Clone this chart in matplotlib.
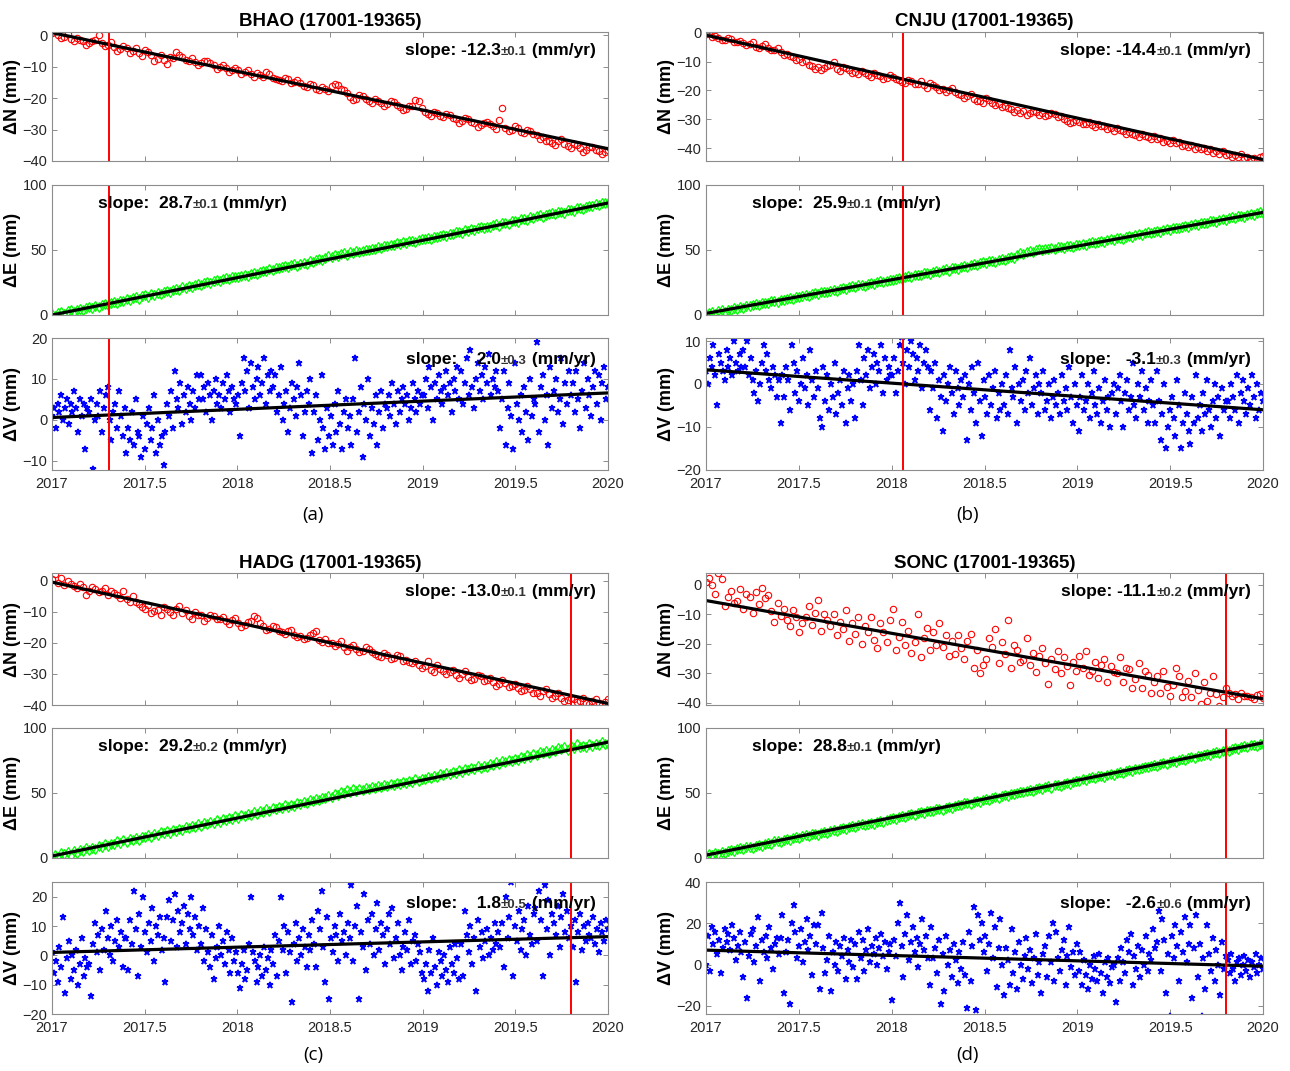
#!/usr/bin/env python3
"""
GNSS daily position time series (N/E/V) for four stations, 2017-2020,
with linear fit and a marker line. Writes out.png.
"""

import numpy as np
import matplotlib
matplotlib.use("Agg")
import matplotlib.pyplot as plt

plt.rcParams["font.family"] = ["Liberation Sans", "DejaVu Sans"]

# ---- data (mm) ----
STATIONS = ["BHAO", "CNJU", "HADG", "SONC"]
PERIOD = "(17001-19365)"
PANEL_TAGS = ["(a)", "(b)", "(c)", "(d)"]
EVENT_EPOCH = [2017.31, 2018.06, 2019.80, 2019.80]

# slope (mm/yr), sigma, fit value at 2017.0
SLOPE_N = [-12.3, -14.4, -13.0, -11.1]
SIGMA_N = [0.1, 0.1, 0.1, 0.2]
START_N = [0.8, -0.8, -0.5, -5.3]
SLOPE_E = [28.7, 25.9, 29.2, 28.8]
SIGMA_E = [0.1, 0.1, 0.2, 0.1]
START_E = [0.0, 1.2, 1.5, 2.2]
SLOPE_V = [2.0, -3.1, 1.8, -2.6]
SIGMA_V = [0.3, 0.3, 0.5, 0.6]
START_V = [0.6, 3.3, 1.0, 7.0]

BHAO_N = [0.8, 1.5, 0.2, -0.8, -0.5, 0.3, -1.2, -2.0, -1.0, -1.4, -1.8, -3.0, -2.5, -1.8, -1.5, 0.0, -2.6, -3.4, -3.0, -2.2,
          -3.8, -4.9, -4.5, -3.6, -4.2, -5.8, -5.0, -4.1, -5.6, -6.5, -4.8, -5.5, -6.2, -8.2, -7.5, -6.4, -8.0, -9.2, -6.8, -7.2,
          -5.5, -6.3, -7.0, -7.9, -8.2, -7.4, -8.5, -9.5, -9.0, -8.1, -8.3, -9.0, -9.6, -10.8, -10.2, -9.4, -10.5, -11.6, -11.0, -10.4,
          -11.0, -12.2, -11.8, -11.1, -12.5, -13.4, -12.0, -12.6, -13.2, -11.6, -12.4, -13.5, -13.8, -14.2, -14.5, -13.5, -14.0, -15.2, -15.0, -14.4,
          -15.3, -16.2, -16.5, -15.6, -16.0, -17.0, -17.4, -16.5, -17.0, -17.8, -16.2, -15.4, -15.8, -17.0, -17.5, -18.5, -19.6, -20.5, -20.2, -19.0,
          -19.5, -20.3, -20.8, -21.6, -20.2, -21.0, -21.5, -22.4, -22.0, -21.0, -21.3, -22.2, -22.8, -23.9, -23.5, -22.6, -22.5, -20.5, -21.0, -23.2,
          -24.5, -25.2, -25.6, -24.4, -24.8, -25.8, -26.0, -25.0, -25.5, -26.3, -26.8, -27.8, -27.3, -26.2, -26.5, -27.6, -28.0, -29.2, -28.6, -27.8,
          -27.5, -28.2, -28.8, -29.8, -27.0, -23.2, -29.5, -30.4, -30.2, -29.0, -29.6, -30.8, -31.0, -30.0, -30.5, -31.5, -31.8, -33.0, -32.5, -33.8,
          -33.5, -34.2, -34.8, -33.6, -33.0, -34.5, -35.2, -36.0, -34.5, -35.0, -35.8, -37.2, -36.5, -35.4, -35.6, -36.4, -36.8, -37.8, -37.0, -36.5]
BHAO_E = [0.5, -0.5, 1.2, 2.0, 0.8, 2.8, 3.5, 2.2, 4.0, 4.8, 3.9, 5.5, 6.2, 5.0, 7.2, 6.5, 7.8, 8.6, 7.5, 9.5,
          10.2, 9.0, 11.0, 10.6, 12.2, 11.5, 13.0, 13.8, 12.6, 14.5, 15.2, 14.0, 16.0, 15.5, 17.0, 16.2, 17.8, 18.5, 17.5, 19.5,
          20.0, 19.0, 21.5, 20.6, 22.2, 21.8, 23.0, 24.0, 23.2, 24.8, 25.5, 24.6, 26.2, 27.0, 26.0, 27.8, 28.5, 27.6, 29.2, 29.5,
          29.5, 30.2, 31.0, 30.0, 31.8, 32.5, 31.6, 33.2, 34.0, 33.5, 35.0, 34.4, 36.0, 35.8, 36.8, 37.5, 36.8, 38.5, 39.0, 38.0,
          39.0, 40.2, 39.5, 41.5, 41.0, 42.2, 43.0, 42.5, 44.0, 45.2, 44.5, 46.2, 45.5, 46.8, 47.5, 46.5, 48.2, 47.8, 49.0, 48.5,
          49.0, 49.8, 50.2, 51.0, 50.5, 52.0, 51.6, 53.0, 52.8, 54.0, 53.5, 55.0, 54.8, 56.0, 55.5, 56.8, 57.2, 56.5, 58.0, 58.5,
          58.2, 59.0, 58.8, 60.2, 60.0, 61.0, 61.8, 61.0, 62.5, 62.2, 63.5, 64.0, 63.2, 65.0, 64.5, 66.0, 65.5, 66.8, 67.5, 66.6,
          68.0, 67.5, 69.0, 69.6, 68.8, 70.5, 71.0, 70.2, 72.0, 72.5, 71.8, 73.5, 74.0, 73.2, 75.0, 74.5, 76.0, 76.8, 75.5, 77.0,
          77.5, 78.2, 77.6, 79.0, 79.5, 78.8, 80.5, 81.0, 80.2, 82.0, 82.5, 81.8, 83.2, 84.0, 83.5, 85.0, 84.5, 86.0, 86.5, 85.8]
BHAO_V = [1, 3, -2, 4, 2, 6, 0, 3, 5, -1, 4, 2, 7, 3, -3, 5, 1, 4, -7, 3,
          2, 5, -12, 0, 4, 1, 7, -3, 3, 6, 8, 0, -5, 2, 4, -2, 7, 1, -4, 3,
          -8, -2, -5, 2, -6, 5, -3, -4, -9, 1, -7, -1, 3, -5, -2, 6, -8, 0, -6, -4,
          -11, -3, 4, 1, 7, -2, 12, 5, 3, 9, -1, 6, 2, 8, 4, 0, 7, 3, 11, 5,
          11, 5, 8, 2, 9, 6, 0, 7, 10, 4, 6, 3, 9, 5, 11, 7, 2, 8, 5, 4,
          6, -4, 9, 15, 7, 12, 3, 14, 8, 5, 10, 13, 6, 9, 15, 4, 11, 7, 12, 8,
          11, 2, 6, 13, 0, 4, 7, -3, 3, 9, 5, 1, 8, 14, 6, -4, 2, 7, 4, 10,
          -8, 2, 6, -5, 0, 11, -2, -7, 3, -4, 1, -6, 4, -3, 7, -1, -7, 2, 5, -2,
          1, -6, 5, 15, -3, 2, 8, -9, 4, 0, 10, -4, 3, -1, 6, -6, 2, 7, -2, 4,
          3, 6, 1, 9, 4, -1, 7, 2, 5, 8, 4, 6, 0, 3, 9, 5, 2, 7, 4, 6,
          6, 10, 3, 13, 8, 0, 9, 5, 11, 7, 4, 8, 12, 6, 9, 2, 10, 7, 13, 5,
          12, 4, 9, 15, 6, 17, 8, 3, 10, 14, 7, 11, 5, 13, 9, 16, 6, 10, 8, 12,
          7, -2, 5, 12, -6, 3, 9, 1, -7, 14, 4, 0, 6, -3, 8, 2, -5, 10, 1, 5,
          4, 19, -3, 8, 11, 0, 6, -6, 13, 3, 7, 10, 2, 5, 15, -1, 9, 4, 12, 6,
          9, 2, 12, 5, -2, 7, 14, 3, 10, 6, 1, 8, 12, 4, 11, 0, 9, 13, 5, 8]

CNJU_N = [-0.5, -0.2, -1.5, -1.0, -1.8, -2.6, -2.5, -1.8, -2.2, -3.0, -3.3, -2.8, -3.5, -4.2, -4.0, -3.2, -4.8, -5.2, -4.5, -4.0,
          -5.2, -5.8, -6.0, -5.4, -6.8, -7.8, -7.5, -8.2, -8.5, -9.5, -9.0, -10.2, -9.8, -11.0, -11.5, -12.5, -11.8, -12.8, -12.2, -11.5,
          -11.0, -10.2, -12.5, -13.2, -11.8, -12.2, -12.8, -13.8, -13.5, -14.2, -13.2, -14.0, -14.5, -15.2, -14.0, -14.8, -15.0, -16.0, -15.5, -14.8,
          -15.2, -16.0, -16.5, -17.2, -17.5, -16.4, -16.8, -17.8, -17.6, -16.8, -18.2, -19.0, -17.5, -18.2, -18.8, -19.8, -19.5, -20.5, -20.0, -19.2,
          -20.5, -21.2, -21.5, -22.5, -22.0, -21.4, -22.8, -23.8, -23.5, -24.2, -22.5, -23.2, -24.2, -25.0, -24.8, -25.8, -25.5, -26.2, -26.5, -27.5,
          -26.8, -27.8, -27.2, -28.5, -28.0, -27.2, -27.5, -28.4, -27.8, -28.8, -28.5, -27.8, -28.2, -29.2, -29.0, -30.0, -30.5, -31.2, -31.0, -30.4,
          -30.8, -31.8, -31.5, -30.8, -32.0, -32.8, -31.8, -32.4, -32.5, -33.5, -33.2, -34.0, -33.0, -33.8, -34.2, -35.2, -34.5, -35.0, -35.5, -36.2,
          -35.0, -35.8, -36.2, -37.0, -35.8, -36.8, -36.5, -37.8, -37.5, -38.2, -37.2, -38.4, -38.0, -39.2, -38.8, -39.6, -39.0, -40.2, -39.5, -40.5,
          -40.0, -41.0, -40.5, -41.8, -41.2, -42.0, -41.0, -42.5, -42.0, -43.0, -42.5, -43.2, -42.2, -43.5, -43.0, -44.2, -43.5, -44.5, -43.2, -42.8]
CNJU_E = [0.5, 1.5, 2.2, 1.0, 2.8, 3.5, 2.6, 4.2, 4.0, 5.2, 4.8, 6.0, 5.5, 7.0, 6.6, 7.5, 8.2, 7.8, 9.0, 9.5,
          9.2, 10.5, 10.8, 10.0, 11.8, 11.5, 12.5, 13.2, 12.6, 14.0, 13.8, 14.8, 15.5, 14.9, 16.2, 16.8, 16.0, 17.5, 18.0, 17.4,
          18.8, 19.5, 18.6, 20.2, 20.8, 20.0, 21.5, 22.0, 21.4, 23.0, 23.2, 22.5, 24.0, 24.6, 23.8, 25.5, 25.8, 25.2, 26.5, 27.0,
          26.8, 28.0, 28.5, 27.8, 29.2, 29.8, 29.0, 30.6, 31.0, 30.5, 32.0, 32.2, 31.6, 33.2, 33.8, 33.0, 34.5, 35.0, 34.2, 35.8,
          36.2, 35.5, 37.0, 37.6, 37.0, 38.5, 39.0, 38.4, 39.8, 40.5, 40.0, 41.2, 41.8, 41.0, 42.6, 43.2, 42.5, 44.0, 44.5, 44.0,
          46.5, 47.5, 47.0, 48.5, 49.0, 48.2, 50.0, 50.5, 49.8, 51.0, 50.5, 51.5, 51.0, 52.0, 52.5, 51.8, 53.2, 53.0, 52.6, 54.0,
          53.8, 54.5, 54.0, 55.2, 55.8, 55.0, 56.5, 57.0, 56.2, 57.8, 58.2, 57.6, 59.0, 59.5, 58.8, 60.2, 60.8, 60.0, 61.5, 62.0,
          61.6, 63.0, 63.5, 62.8, 64.2, 64.8, 64.0, 65.5, 66.0, 65.4, 66.8, 67.2, 66.6, 68.0, 68.5, 67.8, 69.2, 69.8, 69.0, 70.5,
          71.0, 70.5, 72.0, 72.6, 71.8, 73.2, 73.8, 73.0, 74.5, 75.0, 74.4, 75.8, 76.2, 75.6, 77.0, 77.5, 76.8, 78.2, 79.0, 78.5]
CNJU_V = [3, 0, 6, 4, 9, 2, -5, 7, 5, 3, 1, 8, 4, 6, 2, 10, 5, 3, 7, 4,
          8, 4, 10, 2, 6, 1, -2, 3, -4, 0, 5, 9, 3, 7, 1, -1, 4, 2, -3, 1,
          -9, 2, -3, 4, 1, -6, 9, 5, -2, 3, -4, 0, 6, -1, 2, -5, 8, 1, -3, 3,
          -1, -8, -10, 4, -4, 2, -6, 0, -3, 5, -7, -2, 1, -5, 3, -9, -1, 2, -4, 0,
          -8, 3, 9, 1, -5, 6, 2, 8, -1, 4, 7, 0, 5, 3, 9, -2, 6, 1, 4, 2,
          2, 6, -2, 3, 9, 11, 5, 0, 8, 4, 10, 7, 1, 6, 3, 9, -1, 5, 8, 4,
          -6, 3, -1, 5, -8, 1, -3, -11, 2, -4, 0, 4, -2, -7, 3, -1, -5, 1, -3, 2,
          -13, 0, -6, 4, -2, -9, 5, -4, -12, 1, -3, -7, 2, -5, -1, 3, -8, -2, -6, 0,
          -5, 2, -7, 8, -1, -3, 4, -9, 0, -4, 1, -6, 3, -2, 6, -5, -1, 2, -7, 0,
          -2, 3, -6, -4, 0, -8, -3, 1, -5, -2, -7, 2, -4, -1, -6, 4, -3, -9, 0, -5,
          -11, -3, 2, -6, -4, 0, -8, -2, 3, -5, -7, -1, -9, -4, 1, -6, -3, -10, -2, 0,
          -7, -1, 2, -4, -10, -2, 1, -6, -3, 5, -5, -8, 0, -3, 3, -6, -1, -9, -4, 1,
          -5, -9, 3, -4, -13, -7, 0, -15, -10, -6, -3, -8, -12, 1, -5, -15, -9, -2, -7, -11,
          -14, -3, -9, 2, -8, -5, -11, -2, -7, 1, -6, -10, -4, 0, -8, -3, -12, -1, -6, -4,
          -4, -8, 0, -3, -6, 2, -9, -2, 1, -4, -7, -1, -5, 2, -3, -8, 0, -6, -2, -4]

HADG_N = [0.5, 2.0, -0.8, 0.8, -1.5, -0.2, -1.0, -1.8, -2.5, -1.2, -2.0, -4.5, -3.2, -2.0, -2.8, -3.8, -3.5, -2.5, -4.5, -3.5,
          -4.0, -4.8, -5.5, -3.2, -6.0, -6.8, -5.0, -7.0, -7.5, -8.5, -9.0, -8.0, -10.5, -9.8, -9.5, -11.0, -8.5, -9.2, -10.0, -11.2,
          -9.0, -8.2, -10.5, -9.6, -11.5, -12.2, -10.2, -11.2, -11.0, -13.0, -12.0, -11.2, -11.5, -12.4, -12.5, -11.8, -13.0, -13.8, -12.8, -12.0,
          -13.5, -14.8, -14.2, -13.2, -13.0, -11.5, -12.0, -13.5, -14.5, -15.8, -15.5, -14.6, -15.0, -16.2, -16.5, -17.2, -16.2, -15.8, -17.5, -18.2,
          -17.8, -18.8, -18.5, -17.6, -17.0, -16.2, -19.0, -19.8, -18.8, -20.2, -20.0, -21.0, -20.5, -19.5, -21.5, -22.5, -21.2, -20.6, -22.0, -23.0,
          -22.5, -21.5, -22.0, -23.0, -23.5, -24.2, -24.5, -23.2, -23.8, -25.2, -25.0, -24.0, -24.2, -25.8, -25.5, -26.2, -26.5, -25.8, -27.0, -28.2,
          -27.5, -26.0, -28.8, -29.5, -27.2, -28.5, -29.0, -30.0, -29.5, -28.8, -30.2, -31.2, -30.0, -29.2, -31.0, -32.0, -31.5, -30.5, -30.8, -32.2,
          -32.0, -31.2, -32.5, -33.8, -33.2, -32.0, -32.8, -34.2, -34.0, -33.2, -34.5, -35.5, -35.2, -34.0, -34.8, -36.2, -36.0, -37.0, -35.5, -34.8,
          -36.5, -37.8, -37.2, -36.2, -37.8, -38.8, -38.5, -37.6, -38.0, -39.0, -38.8, -37.8, -39.2, -39.8, -38.6, -38.0, -39.5, -40.0, -39.0, -38.2]
HADG_E = [1.0, 2.5, 0.5, 3.5, 2.8, 4.5, 1.8, 5.0, 4.2, 6.5, 5.2, 7.8, 6.5, 8.0, 7.0, 9.5, 8.2, 10.5, 9.2, 11.0,
          10.5, 12.8, 11.2, 13.5, 12.0, 14.8, 13.5, 15.5, 14.2, 16.5, 15.8, 17.8, 16.5, 18.5, 17.5, 19.8, 19.0, 20.5, 19.5, 21.5,
          20.5, 22.5, 21.5, 24.0, 22.8, 24.5, 23.5, 26.0, 24.8, 27.0, 26.2, 28.0, 27.0, 29.0, 27.8, 30.2, 29.0, 31.0, 30.2, 32.0,
          31.0, 33.0, 32.2, 34.0, 33.0, 35.5, 34.2, 36.0, 35.5, 37.5, 36.5, 38.5, 37.5, 39.0, 38.5, 40.5, 39.5, 41.0, 40.2, 42.5,
          41.5, 43.0, 42.2, 44.5, 43.5, 45.5, 44.8, 46.5, 45.8, 48.0, 47.0, 49.5, 48.8, 51.0, 50.2, 52.5, 51.0, 53.0, 51.5, 52.8,
          52.0, 53.5, 53.0, 54.5, 53.8, 55.5, 54.5, 56.0, 55.5, 57.2, 56.0, 58.0, 57.0, 58.5, 57.8, 59.5, 58.8, 60.5, 59.5, 61.0,
          60.5, 62.0, 61.2, 63.0, 62.0, 64.5, 63.5, 65.5, 64.5, 66.0, 65.2, 67.5, 66.5, 68.5, 67.5, 69.5, 68.5, 70.5, 69.5, 71.0,
          70.2, 72.5, 71.5, 73.5, 72.5, 74.5, 73.8, 75.5, 74.5, 76.5, 75.5, 78.0, 77.0, 79.0, 78.0, 80.0, 79.0, 81.5, 80.5, 82.0,
          81.0, 83.0, 82.0, 84.5, 83.5, 85.0, 83.0, 86.0, 84.5, 87.5, 85.5, 86.5, 85.0, 87.5, 86.5, 88.0, 87.0, 89.0, 87.5, 88.0]
HADG_V = [1, -6, -2, -9, 3, -4, 13, -13, -1, 5, -8, 0, -5, 2, -10, -3, 6, -7, -1, -4,
          -3, -14, 4, 11, 1, 7, -5, 9, 2, 15, 6, 0, 10, -2, 5, 12, 3, 8, -4, 6,
          6, -5, 12, 4, 22, 9, -7, 14, 3, 20, 8, 1, 11, 5, 16, -2, 10, 7, 13, 2,
          6, -9, 13, 19, 5, 12, 21, 3, 15, 8, 11, 17, 4, 14, 9, 20, 7, 13, 2, 10,
          4, 16, -2, 9, 1, -4, 7, -8, -1, 3, 10, 0, 5, -3, 8, 2, -6, 6, -2, 1,
          -6, -11, -3, 2, -8, -5, 4, 20, 1, -2, -9, -4, 0, -7, 3, -5, -1, -10, 2, -3,
          7, -7, 5, 20, 2, 10, -6, 8, 1, -16, 4, 11, -2, 6, 0, 9, 3, -4, 7, 2,
          12, 4, -4, 15, 9, 22, 3, -9, 13, -15, 6, 1, 10, 7, -2, 14, 5, 8, 0, 11,
          6, 24, -2, 10, 17, -15, 8, 3, 21, -5, 12, 4, 14, 0, 9, 18, 2, 11, 7, -3,
          9, 14, 4, 16, -1, 6, 11, 0, -5, 3, 8, 2, 12, -3, 5, 7, -2, 4, 1, -6,
          -8, -3, -12, 2, -6, 6, -4, -10, 1, -2, -7, 0, -5, -9, 3, -3, -6, 4, -1, -8,
          4, -7, 15, 7, 1, 10, -3, 6, -12, 12, 3, 8, -1, 5, 9, 0, 6, 2, 11, 4,
          8, 3, 11, -4, 20, 6, 13, 25, -7, 10, 5, 15, 2, 9, 12, 0, 17, 7, 4, 14,
          16, 5, 22, 12, -7, 24, 9, 19, 0, 14, 11, 7, 17, 3, 13, 21, 8, 15, 6, 10,
          3, 12, -9, 8, 14, 2, 10, 5, 11, 7, 6, 13, 4, 9, 1, 11, 8, 5, 12, 9]

SONC_N = [1.0, 2.5, 0.0, -3.0, 4.0, 2.0, -7.0, -4.0, -2.0, -6.0, -5.5, -1.5, -8.0, -3.0, -4.0, -9.5, -2.5, -6.5, -1.0, -4.5,
          -3.5, -9.0, -12.5, -6.0, -10.5, -8.0, -12.0, -14.0, -8.5, -11.0, -16.0, -13.0, -11.0, -7.0, -13.5, -9.5, -5.0, -15.5, -10.0, -12.0,
          -14.0, -10.0, -17.0, -12.5, -15.0, -8.5, -19.0, -13.0, -16.5, -11.0, -20.0, -14.0, -16.0, -11.0, -18.5, -21.5, -13.0, -16.0, -19.5, -12.0,
          -8.0, -22.0, -17.5, -12.5, -20.5, -15.5, -23.0, -19.5, -10.0, -24.5, -18.0, -14.5, -22.0, -16.0, -20.5, -13.0, -21.0, -17.0, -24.0, -19.0,
          -23.5, -17.0, -21.5, -25.0, -19.0, -16.5, -28.0, -22.0, -30.0, -27.0, -25.0, -18.0, -21.0, -15.0, -26.5, -19.5, -23.5, -12.0, -28.0, -20.5,
          -22.0, -26.0, -25.5, -18.0, -27.0, -23.0, -29.5, -24.0, -21.5, -26.5, -33.5, -25.0, -28.5, -22.5, -30.0, -24.5, -27.5, -34.0, -26.0, -29.0,
          -24.0, -28.0, -22.5, -30.5, -29.0, -26.0, -31.5, -27.0, -25.0, -33.0, -27.5, -29.5, -30.0, -24.5, -33.0, -28.0, -28.5, -35.0, -32.0, -26.5,
          -35.0, -29.0, -30.5, -36.5, -33.0, -31.0, -36.5, -29.0, -34.5, -37.5, -34.0, -28.0, -31.0, -38.0, -36.0, -32.5, -38.0, -30.0, -35.5, -40.5,
          -33.0, -39.5, -36.5, -31.0, -37.0, -41.0, -38.0, -35.0, -36.5, -37.5, -37.0, -38.5, -36.5, -37.8, -37.5, -38.0, -38.5, -37.2, -37.0, -38.2]
SONC_E = [1.5, 3.0, 2.2, 4.0, 3.2, 4.8, 4.2, 5.5, 6.0, 5.2, 6.8, 7.5, 6.6, 8.2, 8.8, 8.0, 9.5, 10.2, 9.5, 11.0,
          11.5, 11.0, 12.8, 13.2, 12.5, 14.0, 14.6, 13.8, 15.5, 16.0, 15.2, 16.8, 17.5, 16.6, 18.2, 18.8, 18.0, 19.5, 20.2, 19.5,
          21.0, 21.6, 20.8, 22.5, 23.0, 22.2, 23.8, 24.5, 23.6, 25.2, 25.8, 25.0, 26.5, 27.0, 26.2, 28.0, 28.5, 27.6, 29.2, 30.0,
          30.5, 30.0, 31.8, 32.2, 31.5, 33.0, 33.8, 33.0, 34.5, 35.2, 34.5, 36.0, 36.5, 35.8, 37.5, 38.0, 37.2, 38.8, 39.5, 38.8,
          40.2, 41.0, 40.5, 42.0, 42.5, 41.8, 43.2, 44.0, 43.2, 44.8, 45.5, 44.8, 46.2, 46.8, 46.0, 47.5, 48.2, 47.5, 49.0, 49.5,
          49.8, 51.0, 50.5, 51.8, 52.5, 51.8, 53.2, 53.8, 53.0, 54.5, 55.0, 54.2, 55.8, 56.5, 55.6, 57.2, 57.8, 57.0, 58.5, 59.0,
          59.5, 60.5, 60.0, 61.2, 62.0, 61.2, 62.8, 63.2, 62.5, 64.0, 64.8, 64.0, 65.5, 66.0, 65.2, 66.8, 67.5, 66.8, 68.2, 68.8,
          69.5, 70.2, 69.6, 71.0, 71.8, 71.0, 72.5, 73.2, 72.5, 74.0, 74.5, 73.8, 75.2, 76.0, 75.2, 76.8, 77.5, 76.6, 78.2, 78.8,
          79.0, 80.0, 79.5, 81.0, 81.6, 80.8, 82.5, 83.0, 82.2, 83.8, 84.5, 83.6, 85.2, 86.0, 85.0, 86.8, 87.2, 86.5, 88.0, 87.5]
SONC_V = [0, 14, -3, 18, 10, 16, 5, 12, -4, 8, 17, 11, 15, 7, 19, 13, 2, 9, 16, 6,
          -6, 11, -16, 4, 15, 17, 1, 9, 23, -8, 12, 6, 14, 3, 18, 8, -2, 10, 13, 5,
          13, 24, -14, 6, 12, -19, 20, 29, 16, 3, 9, 17, 1, 11, 22, 7, 14, -5, 19, 10,
          19, -12, 25, 8, -4, 2, 14, -13, 6, 0, 11, -3, 9, 4, 13, -7, 7, 1, 12, -1,
          10, -7, 16, 3, 12, -3, 7, 17, 1, 9, 5, 13, 0, 8, 15, 4, 11, -2, 6, 10,
          -17, 12, 4, 20, 30, 9, -6, 15, 24, 2, 11, 18, 6, 13, -1, 10, 22, 7, 14, 3,
          -10, 18, 3, 8, -4, 12, -19, 5, -13, 14, 0, 7, -6, 10, 2, -9, 6, -2, 11, -5,
          -21, 16, -8, 9, 28, -22, 24, 12, 20, 6, 14, -3, 10, 25, 3, 18, -11, 8, 22, 0,
          -15, 8, 2, -10, 17, -4, 6, -12, 11, 0, -7, 4, 13, -2, 7, -9, 3, 15, -5, 1,
          -14, 5, 9, -6, 14, 1, 20, -8, 16, 3, -3, 7, 12, -10, 4, 18, -1, 6, -5, 10,
          -3, 6, -10, 2, -5, -12, 0, -7, 4, -2, -8, 5, -4, -14, 1, -6, 3, -9, -1, 0,
          -18, 3, -8, 8, 1, -4, 12, 6, 15, -10, 4, -2, 9, -6, 7, 0, 14, -3, 5, 2,
          17, 8, 11, 26, -3, 22, 12, -14, 5, -25, 14, 3, 19, 9, -8, 16, 6, 23, 1, 10,
          19, -16, 8, 24, -6, 10, -25, 3, -12, 19, 5, -3, 13, -8, 7, 0, -15, 11, -2, 4,
          2, -4, 5, -2, -8, 1, 3, -5, 0, 4, -3, 2, -6, 1, -1, 5, -4, 0, 3, -2]

SERIES_N = [BHAO_N, CNJU_N, HADG_N, SONC_N]
SERIES_E = [BHAO_E, CNJU_E, HADG_E, SONC_E]
SERIES_V = [BHAO_V, CNJU_V, HADG_V, SONC_V]

YLIM_N = [(-40, 1), (-44.5, 0.3), (-40, 2.4), (-40.7, 4)]
YLIM_V = [(-12.2, 20), (-20, 10.7), (-20, 25), (-24, 40)]
YTICKS_N = [[-40, -30, -20, -10, 0]] * 4
YTICKS_V = [[-10, 0, 10, 20], [-20, -10, 0, 10], [-20, -10, 0, 10, 20], [-20, 0, 20, 40]]

XTICKS = [2017, 2017.5, 2018, 2018.5, 2019, 2019.5, 2020]
XTICKLABELS = ["2017", "2017.5", "2018", "2018.5", "2019", "2019.5", "2020"]

# ---- layout (figure fractions) ----
COL_X = [0.0403, 0.5473]
COL_W = [0.431, 0.4318]
ROW_BOTTOMS = [[0.8497, 0.7059, 0.5612], [0.3417, 0.1989, 0.0532]]
ROW_H = [[0.1204, 0.1214, 0.1232], [0.1232, 0.1214, 0.1232]]
TAG_Y = [0.519, 0.015]

GREY = "#262626"
BOX = "#8c8c8c"


def style_axes(ax, yticks, ylim, show_x):
    ax.set_xlim(2017, 2020)
    ax.set_ylim(*ylim)
    ax.set_yticks(yticks)
    ax.set_xticks(XTICKS)
    if show_x:
        ax.set_xticklabels(XTICKLABELS)
    else:
        ax.set_xticklabels([])
    ax.tick_params(direction="in", length=3.5, width=0.7, colors=BOX,
                   labelcolor=GREY, labelsize=10.5, top=True, right=True)
    ax.tick_params(axis="x", pad=5)
    for sp in ax.spines.values():
        sp.set_color(BOX)
        sp.set_linewidth(0.8)


def slope_text(ax, slope_str, sigma, x, y, right):
    big = dict(fontsize=12.5, fontweight="bold", color="black")
    small = dict(fontsize=9.5, fontweight="bold", color="#333333")
    pm = f"\u00b1{sigma:.1f}"
    if right:
        t3 = ax.text(x, y, " (mm/yr)", ha="right", va="center",
                     transform=ax.transAxes, **big)
        t2 = ax.annotate(pm, xy=(0, 0), xycoords=t3, ha="right",
                         va="bottom", **small)
        ax.annotate(slope_str, xy=(0, 0), xycoords=t2, ha="right",
                    va="bottom", **big)
    else:
        t1 = ax.text(x, y, slope_str, ha="left", va="center",
                     transform=ax.transAxes, **big)
        t2 = ax.annotate(pm, xy=(1, 0), xycoords=t1, ha="left",
                         va="bottom", **small)
        ax.annotate(" (mm/yr)", xy=(1, 0), xycoords=t2, ha="left",
                    va="bottom", **big)


def fmt_slope(v, pad):
    s = f"{v:.1f}"
    if v >= 0:
        s = " " + s
    return "slope: " + pad + s


def station_panel(fig, k):
    col = k % 2
    row = k // 2
    x0, w = COL_X[col], COL_W[col]
    bots, hs = ROW_BOTTOMS[row], ROW_H[row]
    ax_n = fig.add_axes([x0, bots[0], w, hs[0]])
    ax_e = fig.add_axes([x0, bots[1], w, hs[1]])
    ax_v = fig.add_axes([x0, bots[2], w, hs[2]])

    t_n = np.linspace(2017, 2020, len(SERIES_N[k]))
    t_e = np.linspace(2017, 2020, len(SERIES_E[k]))
    t_v = np.linspace(2017, 2020, len(SERIES_V[k]))
    fit_x = np.array([2017.0, 2020.0])
    ylab = dict(fontsize=13, fontweight="bold", labelpad=1)

    # North
    ax_n.plot(t_n, SERIES_N[k], "o", mfc="none", mec="#ff0000",
              ms=4.6, mew=0.8)
    ax_n.plot(fit_x, START_N[k] + SLOPE_N[k] * (fit_x - 2017), color="black", lw=2.3)
    style_axes(ax_n, YTICKS_N[k], YLIM_N[k], False)
    ax_n.set_ylabel("\u0394N (mm)", **ylab)
    ax_n.set_title(f"{STATIONS[k]} {PERIOD}", fontsize=13.5,
                   fontweight="bold", pad=4)
    slope_text(ax_n, fmt_slope(SLOPE_N[k], ""), SIGMA_N[k], 0.978, 0.86, True)

    # East
    ax_e.plot(t_e, SERIES_E[k], "d", mfc="none", mec="#00ff00",
              ms=5.4, mew=0.9)
    ax_e.plot(fit_x, START_E[k] + SLOPE_E[k] * (fit_x - 2017), color="black", lw=2.3)
    style_axes(ax_e, [0, 50, 100], (0, 100), False)
    ax_e.set_ylabel("\u0394E (mm)", **ylab)
    slope_text(ax_e, fmt_slope(SLOPE_E[k], ""), SIGMA_E[k], 0.082, 0.855, False)

    # Up
    ax_v.plot(t_v, SERIES_V[k], "*", color="#0000ff", ms=4.6, mew=1.1)
    ax_v.plot(fit_x, START_V[k] + SLOPE_V[k] * (fit_x - 2017), color="black", lw=2.3)
    style_axes(ax_v, YTICKS_V[k], YLIM_V[k], True)
    ax_v.set_ylabel("\u0394V (mm)", **ylab)
    slope_text(ax_v, fmt_slope(SLOPE_V[k], "  "), SIGMA_V[k], 0.978, 0.84, True)

    for ax in (ax_n, ax_e, ax_v):
        ax.axvline(EVENT_EPOCH[k], color="#ff0000", lw=1.4)

    fig.text(x0 + w / 2 - 0.013, TAG_Y[row], PANEL_TAGS[k], ha="center",
             va="center", fontsize=13.5, family=["Open Sans", "DejaVu Sans"])


def main():
    fig = plt.figure(figsize=(12.9, 10.71), dpi=100)
    for k in range(4):
        station_panel(fig, k)
    fig.savefig("out.png", dpi=100, facecolor="white")
    plt.close(fig)


if __name__ == "__main__":
    main()
